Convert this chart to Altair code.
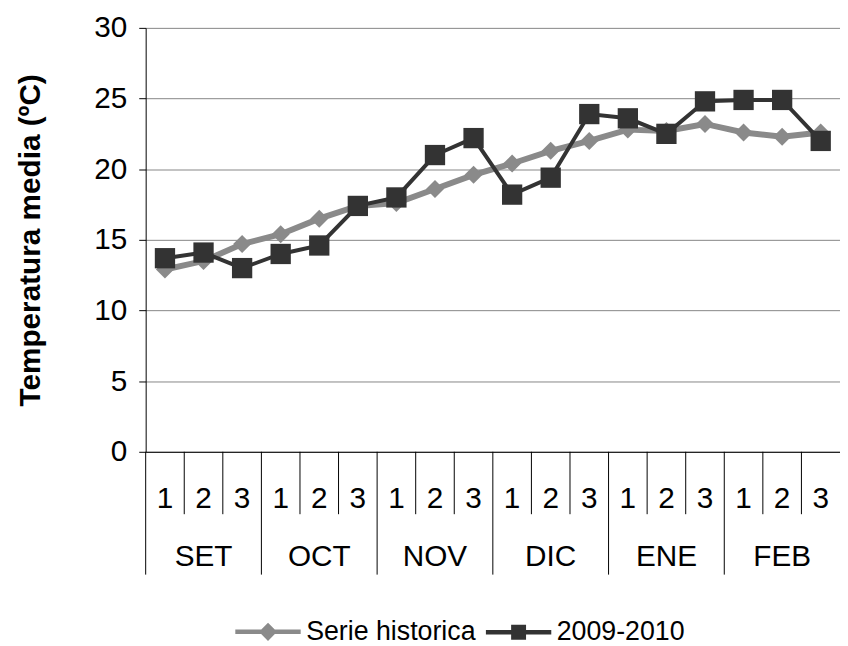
import altair as alt
import pandas as pd

months = ["SET", "OCT", "NOV", "DIC", "ENE", "FEB"]
decades = ["1", "2", "3"]
series_names = ["Serie historica", "2009-2010"]
series_colors = ["#8a8a8a", "#333333"]
serie_historica = [12.9, 13.5, 14.7, 15.4, 16.5, 17.4, 17.6, 18.6, 19.6,
                   20.4, 21.3, 22.0, 22.8, 22.7, 23.2, 22.6, 22.3, 22.6]
temporada_0910 = [13.7, 14.1, 13.0, 14.0, 14.6, 17.4, 18.0, 21.0, 22.2,
                  18.2, 19.4, 23.9, 23.6, 22.5, 24.8, 24.9, 24.9, 22.0]
y_ticks = [0, 5, 10, 15, 20, 25, 30]

FONT = "Liberation Sans"
W, H = 701, 428
n = len(months) * len(decades)

hist_df = pd.DataFrame({"pos": [i + 0.5 for i in range(n)], "temp": serie_historica})
temp_df = pd.DataFrame({"pos": [i + 0.5 for i in range(n)], "temp": temporada_0910})
dec_df = pd.DataFrame({"pos": [i + 0.5 for i in range(n)],
                       "lab": [decades[i % 3] for i in range(n)]})
mon_df = pd.DataFrame({"pos": [3 * m + 1.5 for m in range(len(months))], "lab": months})
dec_sep = pd.DataFrame({"b": [i for i in range(1, n) if i % 3 != 0]})
mon_sep = pd.DataFrame({"b": [m * 3 for m in range(len(months))]})

xs = alt.Scale(domain=[0, n], nice=False, zero=False)
ys = alt.Scale(domain=[0, 30], nice=False)

y_axis = alt.Axis(values=y_ticks, tickSize=7, labelPadding=12, labelFontSize=30,
                  labelFont=FONT, labelColor="black", grid=True, gridColor="#868686",
                  gridWidth=1, domainColor="black", tickColor="black",
                  title="Temperatura media (ºC)", titleFont=FONT, titleFontSize=30,
                  titleFontWeight="bold", titleColor="black", titleAngle=270,
                  titleX=-116, titleY=H / 2, titleAlign="center", titleBaseline="middle")
x_axis = alt.Axis(labels=False, ticks=False, title=None, grid=False, domainColor="black")

base_h = alt.Chart(hist_df)
line_h = base_h.mark_line(color=series_colors[0], strokeWidth=6).encode(
    x=alt.X("pos:Q", scale=xs, axis=x_axis),
    y=alt.Y("temp:Q", scale=ys, axis=y_axis))
pts_h = base_h.mark_point(shape="diamond", filled=True, opacity=1,
                          color=series_colors[0], size=330).encode(
    x=alt.X("pos:Q", scale=xs), y=alt.Y("temp:Q", scale=ys))

base_t = alt.Chart(temp_df)
line_t = base_t.mark_line(color=series_colors[1], strokeWidth=4).encode(
    x=alt.X("pos:Q", scale=xs), y=alt.Y("temp:Q", scale=ys))
pts_t = base_t.mark_point(shape="square", filled=True, opacity=1,
                          color=series_colors[1], size=420).encode(
    x=alt.X("pos:Q", scale=xs), y=alt.Y("temp:Q", scale=ys))

dec_rules = alt.Chart(dec_sep).mark_rule(color="black", strokeWidth=1).encode(
    x=alt.X("b:Q", scale=xs), y=alt.value(H), y2=alt.value(H + 63))
mon_rules = alt.Chart(mon_sep).mark_rule(color="black", strokeWidth=1).encode(
    x=alt.X("b:Q", scale=xs), y=alt.value(H), y2=alt.value(H + 124))
dec_text = alt.Chart(dec_df).mark_text(font=FONT, fontSize=30, color="black",
                                       baseline="middle", align="center").encode(
    x=alt.X("pos:Q", scale=xs), y=alt.value(H + 48), text="lab:N")
mon_text = alt.Chart(mon_df).mark_text(font=FONT, fontSize=30, color="black",
                                       baseline="middle", align="center").encode(
    x=alt.X("pos:Q", scale=xs), y=alt.value(H + 106), text="lab:N")

diamond_path = "M-1,0H-0.2M0.2,0H1M-0.18,0L0,-0.18L0.18,0L0,0.18Z"
square_path = "M-1,0H-0.2M0.2,0H1M-0.16,-0.16H0.16V0.16H-0.16Z"
leg = alt.Legend(orient="none", legendX=88, legendY=574, direction="horizontal",
                 title=None, labelFontSize=27, labelFont=FONT, labelColor="black",
                 labelLimit=0, symbolSize=4356, symbolStrokeWidth=4.5, labelOffset=3,
                 columnPadding=0, padding=0, symbolOpacity=1)
legend_layer = alt.Chart(alt.Data(values=[])).mark_point(
    filled=True, strokeWidth=4.5, opacity=1).encode(
    fill=alt.Fill("serie:N", scale=alt.Scale(domain=series_names, range=series_colors),
                  legend=leg, sort=series_names),
    stroke=alt.Stroke("serie:N", scale=alt.Scale(domain=series_names, range=series_colors),
                      legend=leg, sort=series_names),
    shape=alt.Shape("serie:N", scale=alt.Scale(domain=series_names,
                                               range=[diamond_path, square_path]),
                    legend=leg, sort=series_names))

chart = alt.layer(
    line_h, pts_h, line_t, pts_t, dec_rules, mon_rules, dec_text, mon_text, legend_layer
).properties(
    width=W, height=H,
    autosize=alt.AutoSizeParams(type="none"),
    padding={"left": 139, "top": 17, "right": 0, "bottom": 193},
    background="white",
).configure_view(stroke=None)

chart.save("out.html", embed_options={"renderer": "svg", "actions": False})
